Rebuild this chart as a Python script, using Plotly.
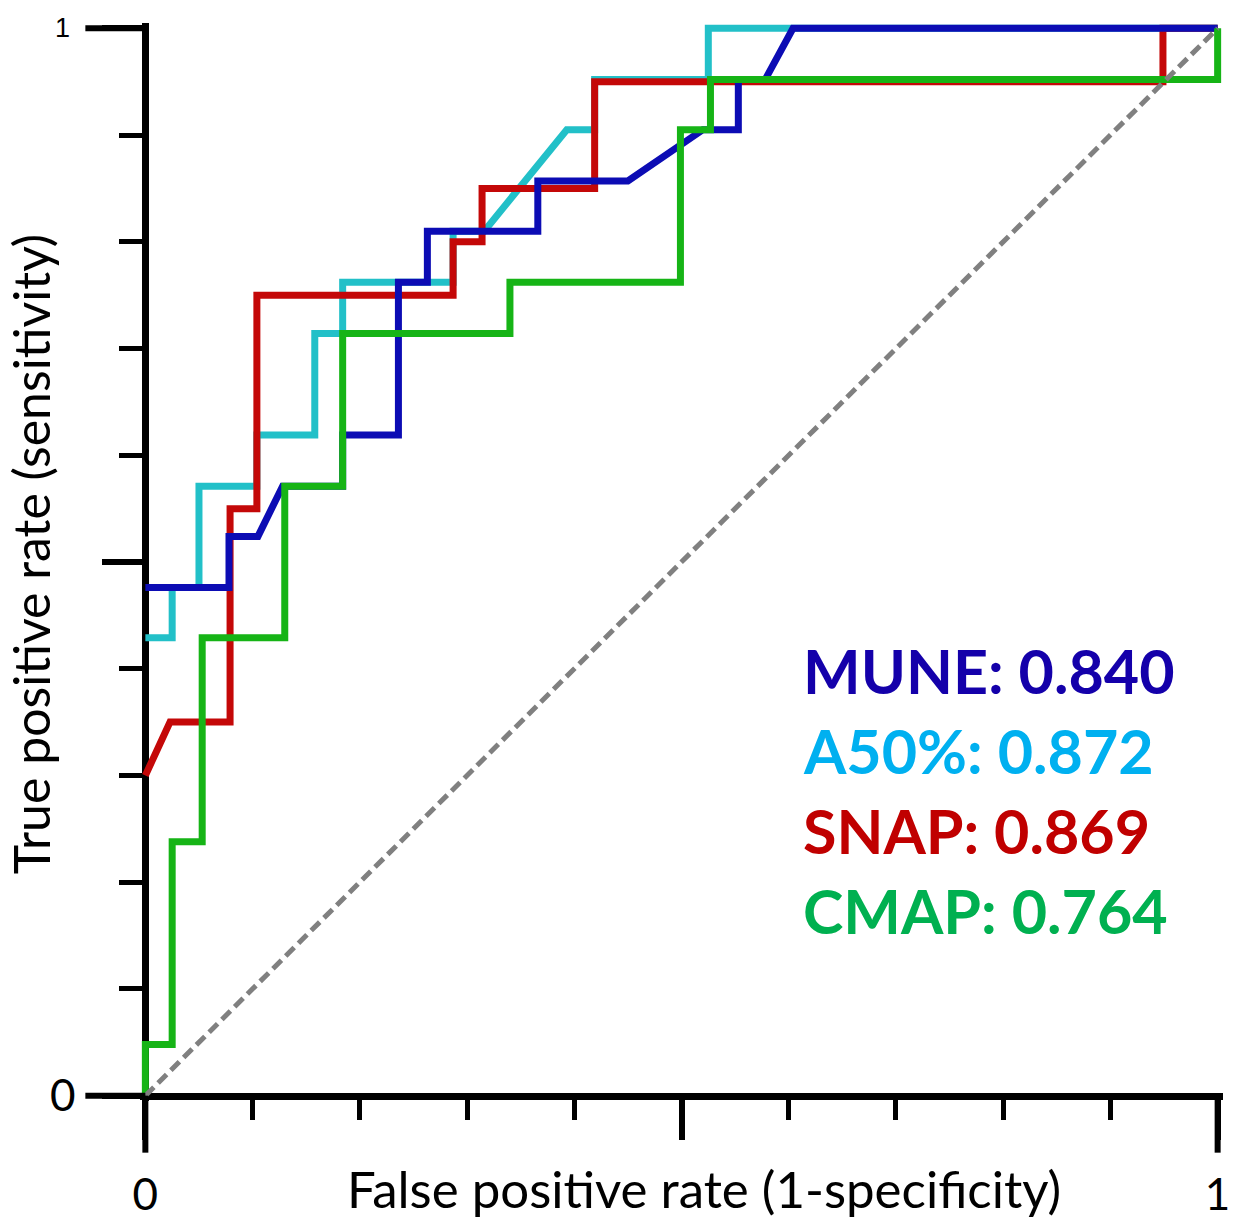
import plotly.graph_objects as go

# ---- data ----
mune_x = [0, 0.078, 0.078, 0.105, 0.128, 0.184, 0.184, 0.236, 0.236, 0.263, 0.263, 0.366, 0.366, 0.450, 0.520, 0.553, 0.553, 0.578, 0.604, 1.0]
mune_y = [0.476, 0.476, 0.524, 0.524, 0.571, 0.571, 0.619, 0.619, 0.762, 0.762, 0.810, 0.810, 0.857, 0.857, 0.905, 0.905, 0.952, 0.952, 1.0, 1.0]

a50_x = [0, 0.025, 0.025, 0.050, 0.050, 0.104, 0.104, 0.158, 0.158, 0.184, 0.184, 0.287, 0.287, 0.316, 0.393, 0.419, 0.419, 0.525, 0.525, 1.0]
a50_y = [0.429, 0.429, 0.476, 0.476, 0.571, 0.571, 0.619, 0.619, 0.714, 0.714, 0.762, 0.762, 0.810, 0.810, 0.905, 0.905, 0.952, 0.952, 1.0, 1.0]

snap_x = [0, 0.023, 0.079, 0.079, 0.104, 0.104, 0.287, 0.287, 0.314, 0.314, 0.419, 0.419, 0.949, 0.949, 1.0]
snap_y = [0.30, 0.35, 0.35, 0.55, 0.55, 0.75, 0.75, 0.80, 0.80, 0.85, 0.85, 0.95, 0.95, 1.0, 1.0]

cmap_x = [0, 0, 0.025, 0.025, 0.053, 0.053, 0.130, 0.130, 0.184, 0.184, 0.340, 0.340, 0.499, 0.499, 0.527, 0.527, 1.0, 1.0]
cmap_y = [0, 0.048, 0.048, 0.238, 0.238, 0.429, 0.429, 0.571, 0.571, 0.714, 0.714, 0.762, 0.762, 0.905, 0.905, 0.952, 0.952, 1.0]

ref_x = [0, 1]
ref_y = [0, 1]

auc_names = ["MUNE", "A50%", "SNAP", "CMAP"]
auc_values = ["0.840", "0.872", "0.869", "0.764"]

tick_vals = [0, 0.5, 1]
x_tick_text = ["0", "", "1"]
y_tick_text = ["0", "", "1"]   # the top "1" is drawn smaller, in a separate font

x_title = "False positive rate (1-specificity)"
y_title = "True positive rate (sensitivity)"

# ---- styles ----
line_colors = {"MUNE": "#0c0cb4", "A50%": "#22c0c8", "SNAP": "#c40808", "CMAP": "#16b416"}
text_colors = ["#1400aa", "#00b0f0", "#c00000", "#00b050"]
LW = 7
PAD = 0.005
FONT = "Lato"

fig = go.Figure()
series = [("A50%", a50_x, a50_y), ("SNAP", snap_x, snap_y), ("MUNE", mune_x, mune_y), ("CMAP", cmap_x, cmap_y)]
for name, xs, ys in series:
    fig.add_trace(go.Scatter(x=xs, y=ys, mode="lines", name=name,
                             line=dict(color=line_colors[name], width=LW)))
fig.add_trace(go.Scatter(x=ref_x, y=ref_y, mode="lines", name="reference",
                         line=dict(color="#808080", width=5, dash="12px,6px")))

pos = PAD / (1 + 2 * PAD)
axis_common = dict(
    range=[-PAD, 1 + PAD], showgrid=False, zeroline=False,
    showline=True, linecolor="black", linewidth=LW,
    tickvals=tick_vals, ticks="outside", ticklen=40, tickwidth=6, tickcolor="black",
    anchor="free", position=pos, layer="below traces",
    tickfont=dict(family=FONT, size=44, color="black"),
)
fig.update_xaxes(**axis_common, ticktext=x_tick_text, ticklabelstandoff=18,
                 minor=dict(dtick=0.1, tick0=0, ticks="outside", ticklen=20, tickwidth=5, tickcolor="black"))
fig.update_yaxes(**axis_common, ticktext=[t if i < 2 else "" for i, t in enumerate(y_tick_text)],
                 ticklabelstandoff=18,
                 minor=dict(dtick=0.1, tick0=0, ticks="outside", ticklen=23, tickwidth=5, tickcolor="black"))

# longer end ticks (axis decoration), paper coords == data coords shifted by padding
def p(v):
    return (v + PAD) / (1 + 2 * PAD)

shapes = []
for v in [0, 1]:
    shapes.append(dict(type="line", xref="paper", yref="paper", ysizemode="pixel", yanchor=p(0),
                       x0=p(v), x1=p(v), y0=0, y1=-57, line=dict(color="black", width=6)))
    shapes.append(dict(type="line", yref="paper", xref="paper", xsizemode="pixel", xanchor=p(0),
                       y0=p(v), y1=p(v), x0=0, x1=-60, line=dict(color="black", width=6)))
fig.update_layout(shapes=shapes)

annotations = []
for i, (n, v) in enumerate(zip(auc_names, auc_values)):
    annotations.append(dict(
        x=0.611, y=0.398 - i * 0.0747, xref="x", yref="y", xanchor="left", yanchor="middle",
        text=f"<b>{n}: {v}</b>", showarrow=False,
        font=dict(family=FONT, size=61, color=text_colors[i])))
annotations.append(dict(x=-0.072, y=p(tick_vals[2]), xref="paper", yref="paper", xanchor="center", yanchor="middle",
                        text=y_tick_text[2], showarrow=False,
                        font=dict(family="Liberation Sans", size=27, color="black")))
annotations.append(dict(x=p(0.521), y=-0.081, xref="paper", yref="paper", xanchor="center", yanchor="middle",
                        text=x_title, showarrow=False, font=dict(family=FONT, size=51, color="black")))
annotations.append(dict(x=-0.101, y=p(0.507), xref="paper", yref="paper", xanchor="center", yanchor="middle",
                        text=y_title, textangle=-90, showarrow=False,
                        font=dict(family=FONT, size=50, color="black")))
fig.update_layout(annotations=annotations)

fig.update_layout(
    width=1250, height=1231,
    margin=dict(l=140, r=27, t=23, b=124, pad=0),
    paper_bgcolor="white", plot_bgcolor="white",
    showlegend=False,
)

fig.write_html("out.html", config={"displayModeBar": False},
               post_script="document.body.style.margin='0';document.body.style.overflow='hidden';")
